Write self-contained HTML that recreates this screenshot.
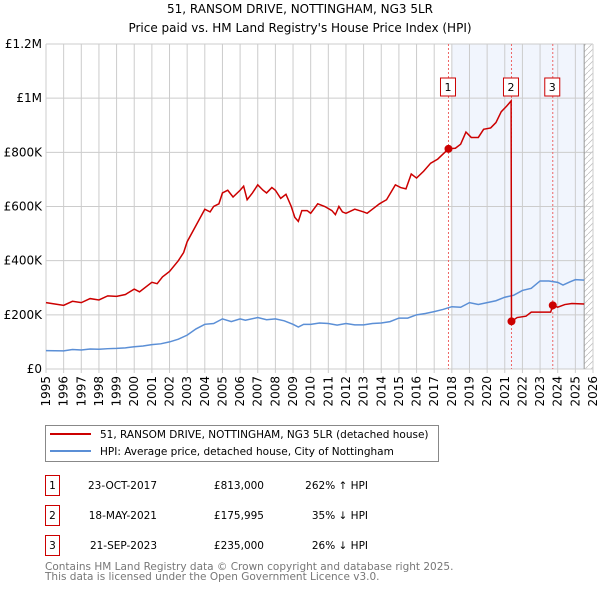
<!DOCTYPE html>
<html><head><meta charset="utf-8"><style>
body{margin:0;background:#fff;width:600px;height:590px;overflow:hidden;font-family:"DejaVu Sans","Liberation Sans",sans-serif;}
svg{position:absolute;left:0;top:0}
</style></head><body>
<svg id="c" width="600" height="590" font-family="DejaVu Sans, Liberation Sans, sans-serif"></svg>
<script>
const redYears=[1995,1995.5,1996,1996.5,1997,1997.5,1998,1998.5,1999,1999.5,2000,2000.3,2001,2001.3,2001.6,2002,2002.5,2002.8,2003,2003.5,2004,2004.3,2004.5,2004.8,2005,2005.3,2005.6,2006,2006.2,2006.4,2006.7,2007,2007.3,2007.5,2007.8,2008,2008.3,2008.6,2008.9,2009.1,2009.3,2009.5,2009.8,2010,2010.4,2010.8,2011.2,2011.4,2011.6,2011.8,2012,2012.5,2013,2013.2,2013.5,2013.9,2014.3,2014.8,2015.1,2015.4,2015.7,2016,2016.4,2016.8,2017.2,2017.81,2018.2,2018.5,2018.8,2019.1,2019.5,2019.8,2020.2,2020.5,2020.8,2021.1,2021.36,2021.38,2021.7,2022.2,2022.5,2023.0,2023.6,2023.72,2024,2024.4,2024.8,2025.5];
const redValues=[245,240,235,250,245,260,255,270,268,275,295,285,320,315,340,360,400,430,470,530,590,580,600,610,650,660,635,660,675,625,650,680,660,650,670,660,630,645,600,560,545,585,585,575,610,600,585,570,600,580,575,590,580,575,590,610,625,680,670,665,720,705,730,760,775,813,815,830,875,855,855,885,890,910,950,970,990,176,190,195,210,210,210,235,228,238,242,240];
const hpiYears=[1995,1996,1996.5,1997,1997.5,1998,1998.5,1999,1999.5,2000,2000.5,2001,2001.5,2002,2002.5,2003,2003.5,2004,2004.5,2005,2005.5,2006,2006.3,2007,2007.5,2008,2008.5,2009,2009.3,2009.6,2010,2010.5,2011,2011.5,2012,2012.5,2013,2013.5,2014,2014.5,2015,2015.5,2016,2016.5,2017,2017.5,2018,2018.5,2019,2019.5,2020,2020.5,2021,2021.5,2022,2022.5,2023,2023.5,2024,2024.3,2024.7,2025,2025.5];
const hpiValues=[68,67,72,70,74,73,75,76,78,82,85,90,93,100,110,125,148,165,168,185,175,185,180,190,182,185,178,165,155,165,165,170,168,162,168,163,163,168,170,175,188,188,200,205,212,220,230,228,245,238,245,252,265,272,290,298,325,325,320,310,322,330,328];
const saleYears=[2017.81,2021.38,2023.72];
const saleValues=[813,175.995,235];
const saleLabels=["1","2","3"];
const yTicks=[0,200,400,600,800,1000,1200];
const yTickLabels=["£0","£200K","£400K","£600K","£800K","£1M","£1.2M"];
const xTicks=[];for(let y=1995;y<=2026;y++)xTicks.push(y);

const L=46,R=593,T=44,B=369;
const X=v=>L+(v-1995)/(2026-1995)*(R-L);
const Y=v=>B-v/1200*(B-T);
const s=document.getElementById('c');
const NS='http://www.w3.org/2000/svg';
function mk(t,a,txt){const e=document.createElementNS(NS,t);for(const k in a)e.setAttribute(k,a[k]);if(txt!=null)e.textContent=txt;s.appendChild(e);return e;}

const defs=mk('defs',{});
defs.innerHTML='<pattern id="h" width="6" height="6" patternUnits="userSpaceOnUse"><path d="M0,6 L6,0" stroke="#bbb" stroke-width="0.7"/></pattern>';
let e;
e=mk('text',{x:300,y:13,'text-anchor':'middle','font-size':12},'51, RANSOM DRIVE, NOTTINGHAM, NG3 5LR');

e=mk('text',{x:300,y:32,'text-anchor':'middle','font-size':12},"Price paid vs. HM Land Registry's House Price Index (HPI)");


e=mk('rect',{x:X(2018),y:T,width:X(2025.5)-X(2018),height:B-T,fill:'#eef3fc',opacity:0.8});

e=mk('rect',{x:X(2025.5),y:T,width:R-X(2025.5),height:B-T,fill:'url(#h)'});


xTicks.forEach(v=>{
 e=mk('line',{x1:X(v),x2:X(v),y1:T,y2:B+4,stroke:'#ccc','stroke-width':1});
 
 e=mk('text',{x:0,y:0,'font-size':12,'text-anchor':'end',transform:`translate(${X(v)+4},${B+7}) rotate(-90)`},String(v));
 
});
yTicks.forEach((v,i)=>{
 e=mk('line',{x1:L,x2:R,y1:Y(v),y2:Y(v),stroke:'#ccc','stroke-width':1});
 
 e=mk('text',{x:L-4,y:Y(v)+4,'font-size':12,'text-anchor':'end'},yTickLabels[i]);
 
});
e=mk('line',{x1:X(2025.5),x2:X(2025.5),y1:T,y2:B,stroke:'#999','stroke-width':1});


saleYears.forEach((v,i)=>{
 e=mk('line',{x1:X(v),x2:X(v),y1:T,y2:B,stroke:'#e66','stroke-width':1,'stroke-dasharray':'2,2'});
 
 e=mk('rect',{x:X(v)-8,y:78,width:15,height:18,fill:'#fff',stroke:'#c00','stroke-width':1});
 
 e=mk('text',{x:X(v)-0.5,y:91,'font-size':11,'text-anchor':'middle'},saleLabels[i]);
 
});

e=mk('polyline',{points:hpiYears.map((v,i)=>X(v)+','+Y(hpiValues[i])).join(' '),fill:'none',stroke:'#5b8fd6','stroke-width':1.5});

e=mk('polyline',{points:redYears.map((v,i)=>X(v)+','+Y(redValues[i])).join(' '),fill:'none',stroke:'#cc0000','stroke-width':1.5});

saleYears.forEach((v,i)=>{
 e=mk('circle',{cx:X(v),cy:Y(saleValues[i]),r:4,fill:'#cc0000'});
 
});

e=mk('rect',{x:45.5,y:425.5,width:393,height:36,fill:'#fff',stroke:'#888','stroke-width':1});

e=mk('line',{x1:50,x2:91,y1:434,y2:434,stroke:'#cc0000','stroke-width':2});

e=mk('text',{x:100,y:438,'font-size':10.5},'51, RANSOM DRIVE, NOTTINGHAM, NG3 5LR (detached house)');

e=mk('line',{x1:50,x2:91,y1:451,y2:451,stroke:'#5b8fd6','stroke-width':2});

e=mk('text',{x:100,y:455,'font-size':10.5},'HPI: Average price, detached house, City of Nottingham');


const rows=[["1","23-OCT-2017","£813,000","262% ↑ HPI"],["2","18-MAY-2021","£175,995","35% ↓ HPI"],["3","21-SEP-2023","£235,000","26% ↓ HPI"]];
rows.forEach((r,i)=>{
 const y=475+i*30;
 e=mk('rect',{x:45.5,y:y+0.5,width:14,height:20,fill:'#fff',stroke:'#c00','stroke-width':1});
 
 e=mk('text',{x:52.5,y:y+14,'font-size':10.5,'text-anchor':'middle'},r[0]);
 
 e=mk('text',{x:157,y:y+14,'font-size':10.5,'text-anchor':'end'},r[1]);
 
 e=mk('text',{x:264,y:y+14,'font-size':10.5,'text-anchor':'end'},r[2]);
 
 e=mk('text',{x:368,y:y+14,'font-size':10.5,'text-anchor':'end'},r[3]);
 
});
e=mk('text',{x:45,y:570,'font-size':10.5,fill:'#777'},'Contains HM Land Registry data © Crown copyright and database right 2025.');

e=mk('text',{x:45,y:580,'font-size':10.5,fill:'#777'},'This data is licensed under the Open Government Licence v3.0.');

</script>
</body></html>
